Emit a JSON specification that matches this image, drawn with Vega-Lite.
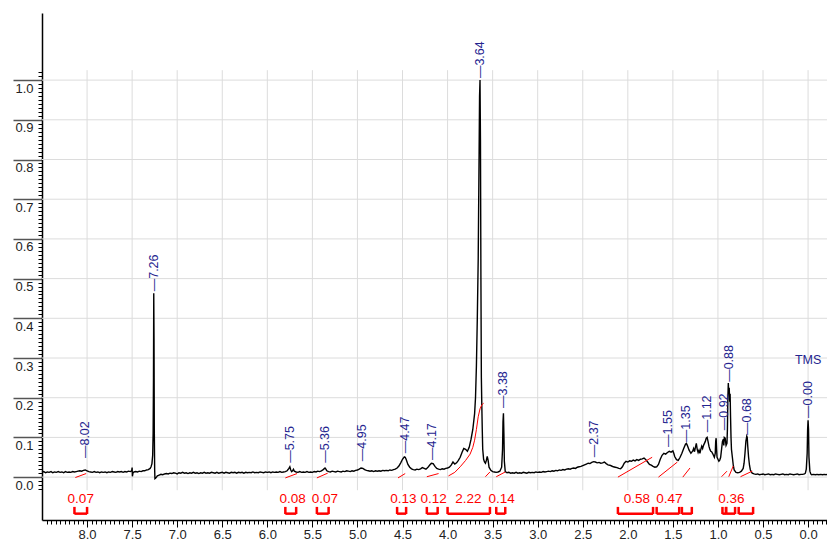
{
"$schema":"https://vega.github.io/schema/vega-lite/v6.json",
"width":785,"height":507,
"autosize":{"type":"none"},
"padding":{"left":42,"top":13,"right":0,"bottom":21},
"background":"white",
"config":{"view":{"stroke":null},"font":"Liberation Sans"},
"datasets":{
"grid":[{"p":8.0},{"p":7.5},{"p":7.0},{"p":6.5},{"p":6.0},{"p":5.5},{"p":5.0},{"p":4.5},{"p":4.0},{"p":3.5},{"p":3.0},{"p":2.5},{"p":2.0},{"p":1.5},{"p":1.0},{"p":0.5},{"p":0.0}],
"hgrid":[{"v":0.0},{"v":0.1},{"v":0.2},{"v":0.3},{"v":0.4},{"v":0.5},{"v":0.6},{"v":0.7},{"v":0.8},{"v":0.9},{"v":1.0}],
"spec":[
{"p":8.50,"v":0.012},{"p":8.48,"v":0.014},{"p":8.46,"v":0.011},{"p":8.44,"v":0.013},{"p":8.42,"v":0.012},{"p":8.40,"v":0.014},{"p":8.38,"v":0.011},{"p":8.36,"v":0.013},{"p":8.34,"v":0.012},{"p":8.32,"v":0.014},{"p":8.30,"v":0.012},{"p":8.28,"v":0.013},{"p":8.26,"v":0.011},{"p":8.24,"v":0.014},{"p":8.22,"v":0.012},{"p":8.20,"v":0.013},{"p":8.18,"v":0.012},{"p":8.16,"v":0.014},{"p":8.14,"v":0.013},{"p":8.12,"v":0.014},{"p":8.10,"v":0.015},{"p":8.08,"v":0.016},{"p":8.06,"v":0.015},{"p":8.04,"v":0.017},{"p":8.02,"v":0.018},{"p":8.00,"v":0.016},{"p":7.98,"v":0.014},{"p":7.96,"v":0.013},{"p":7.94,"v":0.012},{"p":7.92,"v":0.014},{"p":7.90,"v":0.012},{"p":7.88,"v":0.013},{"p":7.86,"v":0.011},{"p":7.84,"v":0.013},{"p":7.82,"v":0.012},{"p":7.80,"v":0.013},{"p":7.78,"v":0.011},{"p":7.76,"v":0.013},{"p":7.74,"v":0.012},{"p":7.72,"v":0.014},{"p":7.70,"v":0.013},{"p":7.68,"v":0.012},{"p":7.66,"v":0.014},{"p":7.64,"v":0.013},{"p":7.62,"v":0.014},{"p":7.60,"v":0.012},{"p":7.58,"v":0.014},{"p":7.56,"v":0.013},{"p":7.54,"v":0.015},{"p":7.52,"v":0.014},{"p":7.505,"v":0.016},{"p":7.50,"v":0.024},{"p":7.497,"v":0.002},{"p":7.49,"v":0.011},{"p":7.48,"v":0.013},{"p":7.46,"v":0.014},{"p":7.44,"v":0.013},{"p":7.42,"v":0.015},{"p":7.40,"v":0.014},{"p":7.38,"v":0.016},{"p":7.36,"v":0.016},{"p":7.34,"v":0.018},{"p":7.32,"v":0.019},{"p":7.30,"v":0.022},{"p":7.29,"v":0.026},{"p":7.28,"v":0.034},{"p":7.272,"v":0.055},{"p":7.267,"v":0.11},{"p":7.263,"v":0.25},{"p":7.260,"v":0.463},{"p":7.257,"v":0.35},{"p":7.254,"v":0.12},{"p":7.250,"v":0.02},{"p":7.247,"v":-0.004},{"p":7.24,"v":-0.003},{"p":7.23,"v":0.0},{"p":7.22,"v":0.003},{"p":7.20,"v":0.005},{"p":7.18,"v":0.007},{"p":7.16,"v":0.006},{"p":7.14,"v":0.008},{"p":7.12,"v":0.009},{"p":7.10,"v":0.008},{"p":7.08,"v":0.010},{"p":7.06,"v":0.009},{"p":7.04,"v":0.011},{"p":7.02,"v":0.010},{"p":7.00,"v":0.008},{"p":6.98,"v":0.011},{"p":6.96,"v":0.010},{"p":6.94,"v":0.012},{"p":6.92,"v":0.010},{"p":6.90,"v":0.011},{"p":6.88,"v":0.009},{"p":6.86,"v":0.011},{"p":6.84,"v":0.010},{"p":6.82,"v":0.012},{"p":6.80,"v":0.010},{"p":6.78,"v":0.011},{"p":6.76,"v":0.009},{"p":6.74,"v":0.011},{"p":6.72,"v":0.010},{"p":6.70,"v":0.012},{"p":6.68,"v":0.010},{"p":6.66,"v":0.011},{"p":6.64,"v":0.010},{"p":6.62,"v":0.012},{"p":6.60,"v":0.011},{"p":6.58,"v":0.010},{"p":6.56,"v":0.012},{"p":6.54,"v":0.010},{"p":6.52,"v":0.011},{"p":6.50,"v":0.012},{"p":6.48,"v":0.010},{"p":6.46,"v":0.012},{"p":6.44,"v":0.011},{"p":6.42,"v":0.010},{"p":6.40,"v":0.012},{"p":6.38,"v":0.011},{"p":6.36,"v":0.012},{"p":6.34,"v":0.010},{"p":6.32,"v":0.012},{"p":6.30,"v":0.011},{"p":6.28,"v":0.012},{"p":6.26,"v":0.010},{"p":6.24,"v":0.012},{"p":6.22,"v":0.011},{"p":6.20,"v":0.012},{"p":6.18,"v":0.011},{"p":6.16,"v":0.013},{"p":6.14,"v":0.011},{"p":6.12,"v":0.012},{"p":6.10,"v":0.011},{"p":6.08,"v":0.013},{"p":6.06,"v":0.012},{"p":6.04,"v":0.011},{"p":6.02,"v":0.013},{"p":6.00,"v":0.012},{"p":5.98,"v":0.013},{"p":5.96,"v":0.011},{"p":5.94,"v":0.013},{"p":5.92,"v":0.012},{"p":5.90,"v":0.013},{"p":5.88,"v":0.012},{"p":5.86,"v":0.014},{"p":5.84,"v":0.012},{"p":5.82,"v":0.013},{"p":5.80,"v":0.014},{"p":5.78,"v":0.016},{"p":5.76,"v":0.022},{"p":5.75,"v":0.026},{"p":5.74,"v":0.018},{"p":5.73,"v":0.014},{"p":5.72,"v":0.016},{"p":5.71,"v":0.02},{"p":5.70,"v":0.015},{"p":5.68,"v":0.013},{"p":5.66,"v":0.012},{"p":5.64,"v":0.014},{"p":5.62,"v":0.012},{"p":5.60,"v":0.013},{"p":5.58,"v":0.012},{"p":5.56,"v":0.014},{"p":5.54,"v":0.012},{"p":5.52,"v":0.013},{"p":5.50,"v":0.012},{"p":5.48,"v":0.014},{"p":5.46,"v":0.013},{"p":5.44,"v":0.015},{"p":5.42,"v":0.014},{"p":5.40,"v":0.016},{"p":5.38,"v":0.019},{"p":5.36,"v":0.023},{"p":5.35,"v":0.02},{"p":5.34,"v":0.016},{"p":5.32,"v":0.014},{"p":5.30,"v":0.013},{"p":5.28,"v":0.015},{"p":5.26,"v":0.014},{"p":5.24,"v":0.013},{"p":5.22,"v":0.015},{"p":5.20,"v":0.014},{"p":5.18,"v":0.013},{"p":5.16,"v":0.015},{"p":5.14,"v":0.014},{"p":5.12,"v":0.016},{"p":5.10,"v":0.015},{"p":5.08,"v":0.014},{"p":5.06,"v":0.016},{"p":5.04,"v":0.015},{"p":5.02,"v":0.017},{"p":5.00,"v":0.018},{"p":4.98,"v":0.02},{"p":4.96,"v":0.023},{"p":4.94,"v":0.022},{"p":4.92,"v":0.019},{"p":4.90,"v":0.017},{"p":4.88,"v":0.016},{"p":4.86,"v":0.015},{"p":4.84,"v":0.016},{"p":4.82,"v":0.014},{"p":4.80,"v":0.016},{"p":4.78,"v":0.015},{"p":4.76,"v":0.016},{"p":4.74,"v":0.015},{"p":4.72,"v":0.017},{"p":4.70,"v":0.016},{"p":4.68,"v":0.017},{"p":4.66,"v":0.016},{"p":4.64,"v":0.018},{"p":4.62,"v":0.017},{"p":4.60,"v":0.019},{"p":4.58,"v":0.02},{"p":4.56,"v":0.023},{"p":4.54,"v":0.028},{"p":4.52,"v":0.036},{"p":4.50,"v":0.045},{"p":4.48,"v":0.051},{"p":4.47,"v":0.05},{"p":4.46,"v":0.045},{"p":4.44,"v":0.032},{"p":4.42,"v":0.025},{"p":4.40,"v":0.021},{"p":4.38,"v":0.019},{"p":4.36,"v":0.018},{"p":4.34,"v":0.02},{"p":4.32,"v":0.019},{"p":4.30,"v":0.021},{"p":4.28,"v":0.024},{"p":4.26,"v":0.022},{"p":4.24,"v":0.02},{"p":4.22,"v":0.024},{"p":4.20,"v":0.03},{"p":4.18,"v":0.035},{"p":4.16,"v":0.034},{"p":4.14,"v":0.027},{"p":4.12,"v":0.022},{"p":4.10,"v":0.02},{"p":4.08,"v":0.019},{"p":4.06,"v":0.021},{"p":4.04,"v":0.02},{"p":4.02,"v":0.022},{"p":4.00,"v":0.023},{"p":3.98,"v":0.025},{"p":3.96,"v":0.03},{"p":3.94,"v":0.038},{"p":3.92,"v":0.033},{"p":3.90,"v":0.036},{"p":3.88,"v":0.042},{"p":3.86,"v":0.05},{"p":3.84,"v":0.062},{"p":3.82,"v":0.072},{"p":3.80,"v":0.07},{"p":3.78,"v":0.065},{"p":3.76,"v":0.075},{"p":3.74,"v":0.095},{"p":3.72,"v":0.12},{"p":3.70,"v":0.16},{"p":3.69,"v":0.2},{"p":3.68,"v":0.28},{"p":3.67,"v":0.4},{"p":3.66,"v":0.55},{"p":3.65,"v":0.82},{"p":3.645,"v":0.96},{"p":3.64,"v":1.0},{"p":3.635,"v":0.85},{"p":3.63,"v":0.5},{"p":3.625,"v":0.25},{"p":3.62,"v":0.18},{"p":3.615,"v":0.12},{"p":3.61,"v":0.07},{"p":3.60,"v":0.045},{"p":3.59,"v":0.038},{"p":3.58,"v":0.035},{"p":3.57,"v":0.042},{"p":3.56,"v":0.052},{"p":3.55,"v":0.042},{"p":3.54,"v":0.025},{"p":3.52,"v":0.017},{"p":3.50,"v":0.014},{"p":3.48,"v":0.013},{"p":3.46,"v":0.012},{"p":3.44,"v":0.013},{"p":3.42,"v":0.015},{"p":3.40,"v":0.025},{"p":3.39,"v":0.07},{"p":3.385,"v":0.14},{"p":3.38,"v":0.161},{"p":3.375,"v":0.11},{"p":3.37,"v":0.04},{"p":3.36,"v":0.014},{"p":3.34,"v":0.011},{"p":3.32,"v":0.012},{"p":3.30,"v":0.010},{"p":3.28,"v":0.011},{"p":3.26,"v":0.010},{"p":3.24,"v":0.012},{"p":3.22,"v":0.010},{"p":3.20,"v":0.011},{"p":3.18,"v":0.010},{"p":3.16,"v":0.012},{"p":3.14,"v":0.011},{"p":3.12,"v":0.010},{"p":3.10,"v":0.012},{"p":3.08,"v":0.011},{"p":3.06,"v":0.012},{"p":3.04,"v":0.011},{"p":3.02,"v":0.013},{"p":3.00,"v":0.012},{"p":2.98,"v":0.013},{"p":2.96,"v":0.012},{"p":2.94,"v":0.014},{"p":2.92,"v":0.013},{"p":2.90,"v":0.014},{"p":2.88,"v":0.015},{"p":2.86,"v":0.014},{"p":2.84,"v":0.016},{"p":2.82,"v":0.015},{"p":2.80,"v":0.017},{"p":2.78,"v":0.016},{"p":2.76,"v":0.018},{"p":2.74,"v":0.017},{"p":2.72,"v":0.019},{"p":2.70,"v":0.018},{"p":2.68,"v":0.02},{"p":2.66,"v":0.021},{"p":2.64,"v":0.02},{"p":2.62,"v":0.022},{"p":2.60,"v":0.023},{"p":2.58,"v":0.022},{"p":2.56,"v":0.025},{"p":2.54,"v":0.026},{"p":2.52,"v":0.027},{"p":2.50,"v":0.029},{"p":2.48,"v":0.031},{"p":2.46,"v":0.033},{"p":2.44,"v":0.035},{"p":2.42,"v":0.034},{"p":2.40,"v":0.037},{"p":2.38,"v":0.039},{"p":2.36,"v":0.038},{"p":2.34,"v":0.036},{"p":2.32,"v":0.037},{"p":2.30,"v":0.035},{"p":2.28,"v":0.036},{"p":2.26,"v":0.038},{"p":2.24,"v":0.034},{"p":2.22,"v":0.031},{"p":2.20,"v":0.03},{"p":2.18,"v":0.028},{"p":2.16,"v":0.026},{"p":2.14,"v":0.025},{"p":2.12,"v":0.024},{"p":2.10,"v":0.022},{"p":2.08,"v":0.021},{"p":2.06,"v":0.026},{"p":2.04,"v":0.035},{"p":2.02,"v":0.04},{"p":2.00,"v":0.038},{"p":1.98,"v":0.041},{"p":1.96,"v":0.04},{"p":1.94,"v":0.043},{"p":1.92,"v":0.041},{"p":1.90,"v":0.044},{"p":1.88,"v":0.042},{"p":1.86,"v":0.045},{"p":1.84,"v":0.046},{"p":1.82,"v":0.048},{"p":1.80,"v":0.044},{"p":1.78,"v":0.038},{"p":1.76,"v":0.032},{"p":1.74,"v":0.03},{"p":1.72,"v":0.027},{"p":1.70,"v":0.025},{"p":1.68,"v":0.026},{"p":1.66,"v":0.032},{"p":1.64,"v":0.045},{"p":1.62,"v":0.055},{"p":1.60,"v":0.06},{"p":1.58,"v":0.058},{"p":1.56,"v":0.062},{"p":1.54,"v":0.065},{"p":1.52,"v":0.063},{"p":1.50,"v":0.066},{"p":1.49,"v":0.06},{"p":1.48,"v":0.052},{"p":1.46,"v":0.044},{"p":1.44,"v":0.042},{"p":1.42,"v":0.05},{"p":1.40,"v":0.06},{"p":1.38,"v":0.072},{"p":1.36,"v":0.083},{"p":1.35,"v":0.085},{"p":1.34,"v":0.08},{"p":1.32,"v":0.068},{"p":1.30,"v":0.06},{"p":1.28,"v":0.066},{"p":1.27,"v":0.072},{"p":1.26,"v":0.064},{"p":1.25,"v":0.075},{"p":1.24,"v":0.085},{"p":1.23,"v":0.07},{"p":1.22,"v":0.062},{"p":1.21,"v":0.068},{"p":1.20,"v":0.06},{"p":1.19,"v":0.07},{"p":1.18,"v":0.078},{"p":1.17,"v":0.072},{"p":1.16,"v":0.08},{"p":1.14,"v":0.09},{"p":1.13,"v":0.098},{"p":1.12,"v":0.10},{"p":1.11,"v":0.09},{"p":1.10,"v":0.078},{"p":1.09,"v":0.07},{"p":1.08,"v":0.065},{"p":1.07,"v":0.064},{"p":1.06,"v":0.06},{"p":1.05,"v":0.055},{"p":1.04,"v":0.05},{"p":1.03,"v":0.06},{"p":1.025,"v":0.09},{"p":1.02,"v":0.098},{"p":1.015,"v":0.07},{"p":1.01,"v":0.05},{"p":1.00,"v":0.045},{"p":0.99,"v":0.04},{"p":0.98,"v":0.043},{"p":0.97,"v":0.05},{"p":0.96,"v":0.07},{"p":0.95,"v":0.09},{"p":0.94,"v":0.095},{"p":0.935,"v":0.08},{"p":0.93,"v":0.1},{"p":0.92,"v":0.098},{"p":0.91,"v":0.08},{"p":0.90,"v":0.085},{"p":0.895,"v":0.12},{"p":0.89,"v":0.2},{"p":0.885,"v":0.237},{"p":0.88,"v":0.21},{"p":0.875,"v":0.225},{"p":0.87,"v":0.19},{"p":0.865,"v":0.21},{"p":0.86,"v":0.15},{"p":0.855,"v":0.1},{"p":0.85,"v":0.07},{"p":0.84,"v":0.05},{"p":0.83,"v":0.03},{"p":0.82,"v":0.018},{"p":0.80,"v":0.012},{"p":0.78,"v":0.011},{"p":0.76,"v":0.012},{"p":0.74,"v":0.015},{"p":0.72,"v":0.022},{"p":0.71,"v":0.035},{"p":0.70,"v":0.06},{"p":0.69,"v":0.09},{"p":0.68,"v":0.103},{"p":0.675,"v":0.1},{"p":0.67,"v":0.08},{"p":0.66,"v":0.05},{"p":0.65,"v":0.03},{"p":0.64,"v":0.018},{"p":0.62,"v":0.01},{"p":0.60,"v":0.008},{"p":0.58,"v":0.007},{"p":0.56,"v":0.008},{"p":0.54,"v":0.006},{"p":0.52,"v":0.007},{"p":0.50,"v":0.008},{"p":0.48,"v":0.006},{"p":0.46,"v":0.007},{"p":0.44,"v":0.008},{"p":0.42,"v":0.006},{"p":0.40,"v":0.007},{"p":0.38,"v":0.006},{"p":0.36,"v":0.008},{"p":0.34,"v":0.007},{"p":0.32,"v":0.006},{"p":0.30,"v":0.007},{"p":0.28,"v":0.008},{"p":0.26,"v":0.006},{"p":0.24,"v":0.007},{"p":0.22,"v":0.006},{"p":0.20,"v":0.008},{"p":0.18,"v":0.007},{"p":0.16,"v":0.006},{"p":0.14,"v":0.007},{"p":0.12,"v":0.008},{"p":0.10,"v":0.006},{"p":0.08,"v":0.007},{"p":0.06,"v":0.007},{"p":0.04,"v":0.008},{"p":0.03,"v":0.01},{"p":0.02,"v":0.02},{"p":0.01,"v":0.06},{"p":0.005,"v":0.12},{"p":0.0,"v":0.143},{"p":-0.005,"v":0.12},{"p":-0.01,"v":0.05},{"p":-0.02,"v":0.015},{"p":-0.03,"v":0.008},{"p":-0.04,"v":0.006},{"p":-0.06,"v":0.007},{"p":-0.08,"v":0.006},{"p":-0.10,"v":0.007},{"p":-0.12,"v":0.006},{"p":-0.14,"v":0.007},{"p":-0.16,"v":0.006},{"p":-0.18,"v":0.007},{"p":-0.20,"v":0.006},{"p":-0.21,"v":0.007}
],
"integ":[
{"g":1,"p":8.13,"v":-0.001},{"g":1,"p":8.01,"v":0.009},
{"g":2,"p":5.80,"v":-0.002},{"g":2,"p":5.67,"v":0.009},
{"g":3,"p":5.45,"v":-0.002},{"g":3,"p":5.33,"v":0.010},
{"g":4,"p":4.55,"v":-0.002},{"g":4,"p":4.47,"v":0.009},
{"g":5,"p":4.23,"v":0.001},{"g":5,"p":4.10,"v":0.009},
{"g":6,"p":3.99,"v":0.003},{"g":6,"p":3.92,"v":0.012},{"g":6,"p":3.86,"v":0.026},{"g":6,"p":3.80,"v":0.042},{"g":6,"p":3.75,"v":0.058},{"g":6,"p":3.72,"v":0.075},{"g":6,"p":3.70,"v":0.093},{"g":6,"p":3.68,"v":0.12},{"g":6,"p":3.66,"v":0.152},{"g":6,"p":3.64,"v":0.172},{"g":6,"p":3.62,"v":0.182},{"g":6,"p":3.60,"v":0.186},
{"g":7,"p":3.58,"v":0.001},{"g":7,"p":3.53,"v":0.013},
{"g":8,"p":3.46,"v":0.001},{"g":8,"p":3.36,"v":0.013},
{"g":9,"p":2.11,"v":0.0},{"g":9,"p":1.73,"v":0.05},
{"g":10,"p":1.66,"v":0.0},{"g":10,"p":1.45,"v":0.038},
{"g":11,"p":1.39,"v":0.0},{"g":11,"p":1.31,"v":0.023},
{"g":12,"p":0.96,"v":0.001},{"g":12,"p":0.90,"v":0.015},
{"g":13,"p":0.88,"v":0.001},{"g":13,"p":0.83,"v":0.028},
{"g":14,"p":0.75,"v":0.001},{"g":14,"p":0.62,"v":0.015}
],
"br":[
{"a":8.14,"b":8.00},{"a":5.80,"b":5.68},{"a":5.45,"b":5.32},{"a":4.56,"b":4.46},{"a":4.23,"b":4.11},{"a":4.00,"b":3.53},{"a":3.46,"b":3.36},{"a":2.11,"b":1.72},{"a":1.68,"b":1.43},{"a":1.40,"b":1.29},{"a":0.95,"b":0.91},{"a":0.91,"b":0.81},{"a":0.77,"b":0.61}
],
"il":[
{"p":8.07,"t":"0.07"},{"p":5.72,"t":"0.08"},{"p":5.36,"t":"0.07"},{"p":4.49,"t":"0.13"},{"p":4.155,"t":"0.12"},{"p":3.77,"t":"2.22"},{"p":3.40,"t":"0.14"},{"p":1.90,"t":"0.58"},{"p":1.54,"t":"0.47"},{"p":0.85,"t":"0.36"}
],
"pk":[
{"p":8.02,"v":0.048,"t":"—8.02"},{"p":7.26,"v":0.468,"t":"—7.26"},{"p":5.75,"v":0.036,"t":"—5.75"},{"p":5.36,"v":0.036,"t":"—5.36"},{"p":4.95,"v":0.04,"t":"—4.95"},{"p":4.47,"v":0.06,"t":"—4.47"},{"p":4.17,"v":0.043,"t":"—4.17"},{"p":3.64,"v":1.005,"t":"—3.64"},{"p":3.38,"v":0.174,"t":"—3.38"},{"p":2.37,"v":0.05,"t":"—2.37"},{"p":1.55,"v":0.076,"t":"—1.55"},{"p":1.35,"v":0.088,"t":"—1.35"},{"p":1.12,"v":0.113,"t":"—1.12"},{"p":0.935,"v":0.118,"t":"—0.92"},{"p":0.88,"v":0.24,"t":"—0.88"},{"p":0.68,"v":0.106,"t":"—0.68"},{"p":0.0,"v":0.149,"t":"—0.00"}
],
"tms":[{"p":0.0,"t":"TMS"}]
},
"layer":[
{"data":{"name":"grid"},"mark":{"type":"rule","color":"#dcdcdc","strokeWidth":1},
 "encoding":{
  "x":{"field":"p","type":"quantitative","scale":{"domain":[-0.21,8.5],"reverse":true,"nice":false,"zero":false},
   "axis":{"orient":"bottom","title":null,"grid":false,"tickCount":1000,
    "values":[8.45,8.4,8.35,8.3,8.25,8.2,8.15,8.1,8.05,8.0,7.95,7.9,7.85,7.8,7.75,7.7,7.65,7.6,7.55,7.5,7.45,7.4,7.35,7.3,7.25,7.2,7.15,7.1,7.05,7.0,6.95,6.9,6.85,6.8,6.75,6.7,6.65,6.6,6.55,6.5,6.45,6.4,6.35,6.3,6.25,6.2,6.15,6.1,6.05,6.0,5.95,5.9,5.85,5.8,5.75,5.7,5.65,5.6,5.55,5.5,5.45,5.4,5.35,5.3,5.25,5.2,5.15,5.1,5.05,5.0,4.95,4.9,4.85,4.8,4.75,4.7,4.65,4.6,4.55,4.5,4.45,4.4,4.35,4.3,4.25,4.2,4.15,4.1,4.05,4.0,3.95,3.9,3.85,3.8,3.75,3.7,3.65,3.6,3.55,3.5,3.45,3.4,3.35,3.3,3.25,3.2,3.15,3.1,3.05,3.0,2.95,2.9,2.85,2.8,2.75,2.7,2.65,2.6,2.55,2.5,2.45,2.4,2.35,2.3,2.25,2.2,2.15,2.1,2.05,2.0,1.95,1.9,1.85,1.8,1.75,1.7,1.65,1.6,1.55,1.5,1.45,1.4,1.35,1.3,1.25,1.2,1.15,1.1,1.05,1.0,0.95,0.9,0.85,0.8,0.75,0.7,0.65,0.6,0.55,0.5,0.45,0.4,0.35,0.3,0.25,0.2,0.15,0.1,0.05,0.0,-0.05,-0.1,-0.15,-0.2],
    "labelExpr":"abs(datum.value*2-round(datum.value*2))<0.001 ? format(datum.value,'.1f') : ''",
    "tickSize":{"condition":{"test":"abs(datum.value*2-round(datum.value*2))<0.001","value":7},"value":4},
    "tickColor":"#000000","tickWidth":1,"domainColor":"#000000","domainWidth":1.5,
    "labelFontSize":13,"labelColor":"#222222","labelPadding":1,"labelOverlap":false,"labelFlush":false,"labelBound":false}},
  "y":{"datum":1.025,"type":"quantitative","scale":{"domain":[-0.108,1.169],"nice":false,"zero":false},
   "axis":{"title":null,"tickCount":1000,"grid":false,
    "values":[-0.03,-0.02,-0.01,0.0,0.01,0.02,0.03,0.04,0.05,0.06,0.07,0.08,0.09,0.1,0.11,0.12,0.13,0.14,0.15,0.16,0.17,0.18,0.19,0.2,0.21,0.22,0.23,0.24,0.25,0.26,0.27,0.28,0.29,0.3,0.31,0.32,0.33,0.34,0.35,0.36,0.37,0.38,0.39,0.4,0.41,0.42,0.43,0.44,0.45,0.46,0.47,0.48,0.49,0.5,0.51,0.52,0.53,0.54,0.55,0.56,0.57,0.58,0.59,0.6,0.61,0.62,0.63,0.64,0.65,0.66,0.67,0.68,0.69,0.7,0.71,0.72,0.73,0.74,0.75,0.76,0.77,0.78,0.79,0.8,0.81,0.82,0.83,0.84,0.85,0.86,0.87,0.88,0.89,0.9,0.91,0.92,0.93,0.94,0.95,0.96,0.97,0.98,0.99,1.0,1.01,1.02],
    "labelExpr":"abs(datum.value*10-round(datum.value*10))<0.001 && datum.value>-0.001 ? format(datum.value,'.1f') : ''",
    "tickSize":{"condition":{"test":"abs(datum.value*10-round(datum.value*10))<0.001 && datum.value>-0.001","value":29},"value":4},
    "tickColor":{"condition":{"test":"abs(datum.value*10-round(datum.value*10))<0.001 && datum.value>-0.001","value":"#555555"},"value":"#000000"},
    "tickWidth":{"condition":{"test":"abs(datum.value*10-round(datum.value*10))<0.001 && datum.value>-0.001","value":1.5},"value":1},
    "domainColor":"#000000","domainWidth":1.5,
    "labelFontSize":13,"labelColor":"#222222","labelPadding":-20,"labelAlign":"right","labelBaseline":"middle","labelOffset":8,
    "labelOverlap":false,"labelFlush":false,"labelBound":false}},
  "y2":{"datum":-0.033}}},
{"data":{"name":"hgrid"},"mark":{"type":"rule","color":"#dcdcdc","strokeWidth":1},
 "encoding":{
  "x":{"datum":8.5,"type":"quantitative","scale":{"domain":[-0.21,8.5],"reverse":true,"nice":false,"zero":false}},
  "x2":{"datum":-0.21},
  "y":{"field":"v","type":"quantitative","scale":{"domain":[-0.108,1.169],"nice":false,"zero":false}}}},
{"data":{"name":"spec"},"mark":{"type":"line","color":"#000000","strokeWidth":1.4},
 "encoding":{
  "x":{"field":"p","type":"quantitative","scale":{"domain":[-0.21,8.5],"reverse":true,"nice":false,"zero":false}},
  "y":{"field":"v","type":"quantitative","scale":{"domain":[-0.108,1.169],"nice":false,"zero":false}}}},
{"data":{"name":"integ"},"mark":{"type":"line","color":"#ff0000","strokeWidth":1},
 "encoding":{
  "x":{"field":"p","type":"quantitative","scale":{"domain":[-0.21,8.5],"reverse":true,"nice":false,"zero":false}},
  "y":{"field":"v","type":"quantitative","scale":{"domain":[-0.108,1.169],"nice":false,"zero":false}},
  "detail":{"field":"g","type":"nominal"}}},
{"data":{"name":"br"},"mark":{"type":"rule","color":"#ff0000","strokeWidth":2.5},
 "encoding":{
  "x":{"field":"a","type":"quantitative","scale":{"domain":[-0.21,8.5],"reverse":true,"nice":false,"zero":false}},
  "x2":{"field":"b"},
  "y":{"datum":-0.092,"type":"quantitative","scale":{"domain":[-0.108,1.169],"nice":false,"zero":false}}}},
{"data":{"name":"br"},"mark":{"type":"rule","color":"#ff0000","strokeWidth":2.5},
 "encoding":{
  "x":{"field":"a","type":"quantitative","scale":{"domain":[-0.21,8.5],"reverse":true,"nice":false,"zero":false}},
  "y":{"datum":-0.093,"type":"quantitative","scale":{"domain":[-0.108,1.169],"nice":false,"zero":false}},
  "y2":{"datum":-0.075}}},
{"data":{"name":"br"},"mark":{"type":"rule","color":"#ff0000","strokeWidth":2.5},
 "encoding":{
  "x":{"field":"b","type":"quantitative","scale":{"domain":[-0.21,8.5],"reverse":true,"nice":false,"zero":false}},
  "y":{"datum":-0.093,"type":"quantitative","scale":{"domain":[-0.108,1.169],"nice":false,"zero":false}},
  "y2":{"datum":-0.075}}},
{"data":{"name":"il"},"mark":{"type":"text","color":"#ff0000","fontSize":13.5,"align":"center","baseline":"middle"},
 "encoding":{
  "x":{"field":"p","type":"quantitative","scale":{"domain":[-0.21,8.5],"reverse":true,"nice":false,"zero":false}},
  "y":{"datum":-0.055,"type":"quantitative","scale":{"domain":[-0.108,1.169],"nice":false,"zero":false}},
  "text":{"field":"t","type":"nominal"}}},
{"data":{"name":"pk"},"mark":{"type":"text","color":"#24248f","fontSize":12.5,"align":"left","baseline":"middle","angle":270},
 "encoding":{
  "x":{"field":"p","type":"quantitative","scale":{"domain":[-0.21,8.5],"reverse":true,"nice":false,"zero":false}},
  "y":{"field":"v","type":"quantitative","scale":{"domain":[-0.108,1.169],"nice":false,"zero":false}},
  "text":{"field":"t","type":"nominal"}}},
{"data":{"name":"tms"},"mark":{"type":"text","color":"#24248f","fontSize":12.5,"align":"center","baseline":"middle"},
 "encoding":{
  "x":{"field":"p","type":"quantitative","scale":{"domain":[-0.21,8.5],"reverse":true,"nice":false,"zero":false}},
  "y":{"datum":0.295,"type":"quantitative","scale":{"domain":[-0.108,1.169],"nice":false,"zero":false}},
  "text":{"field":"t","type":"nominal"}}}
]
}
